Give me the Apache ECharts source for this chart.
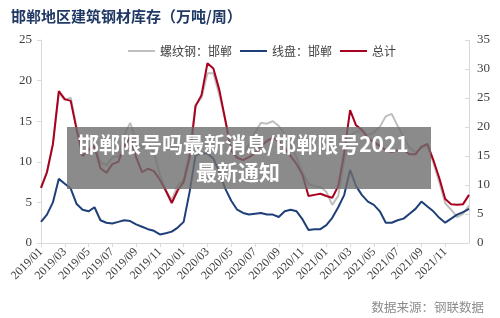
<!DOCTYPE html>
<html><head><meta charset="utf-8">
<script src="https://cdn.jsdelivr.net/npm/echarts@6/dist/echarts.min.js"></script>
<style>html,body{margin:0;padding:0;background:#fff}#c{width:500px;height:318px}</style>
</head><body><div id="c"></div>
<script>
const titleText = '邯郸地区建筑钢材库存（万吨/周）';
const sourceText = '数据来源：钢联数据';
const overlayLine1 = '邯郸限号吗最新消息/邯郸限号2021';
const overlayLine2 = '最新通知';
const seriesNames = ['螺纹钢：邯郸', '线盘：邯郸', '总计'];

const dates = [
'2019/01/01','2019/01/16','2019/02/01','2019/02/16','2019/03/01','2019/03/16','2019/04/01','2019/04/16',
'2019/05/01','2019/05/16','2019/06/01','2019/06/16','2019/07/01','2019/07/16','2019/08/01','2019/08/16',
'2019/09/01','2019/09/16','2019/10/01','2019/10/16','2019/11/01','2019/11/16','2019/12/01','2019/12/16',
'2020/01/01','2020/01/16','2020/02/01','2020/02/16','2020/03/01','2020/03/16','2020/04/01','2020/04/16',
'2020/05/01','2020/05/16','2020/06/01','2020/06/16','2020/07/01','2020/07/16','2020/08/01','2020/08/16',
'2020/09/01','2020/09/16','2020/10/01','2020/10/16','2020/11/01','2020/11/16','2020/12/01','2020/12/16',
'2021/01/01','2021/01/16','2021/02/01','2021/02/16','2021/03/01','2021/03/16','2021/04/01','2021/04/16',
'2021/05/01','2021/05/16','2021/06/01','2021/06/16','2021/07/01','2021/07/16','2021/08/01','2021/08/16',
'2021/09/01','2021/09/16','2021/10/01','2021/10/16','2021/11/01','2021/11/16','2021/12/01','2021/12/16',
'2022/01/01'];

// 螺纹钢：邯郸 (left axis)
const rebar = [6.8,8.7,12.2,18.5,17.6,17.9,14.2,10.8,11.7,12.3,9.9,9.6,10.5,10.7,13.3,14.8,
12.7,11.7,12.1,11.2,8.4,6.5,5.3,7.1,7.8,11.5,17.0,17.9,20.9,20.9,18.2,15.2,
11.7,11.1,11.2,12.1,13.6,14.8,14.7,15.0,14.4,13.4,12.1,10.5,8.7,7.3,7.0,6.9,
6.3,4.7,5.8,10.2,13.3,13.7,13.8,13.3,13.6,14.3,15.6,15.9,14.4,13.1,11.7,11.2,
11.7,12.0,9.9,7.5,4.9,4.1,3.2,3.6,4.6];

// 线盘：邯郸 (left axis)
const wire = [2.6,3.5,5.0,7.9,7.3,6.7,4.8,4.1,3.9,4.4,2.8,2.5,2.4,2.6,2.8,2.7,
2.3,2.0,1.7,1.5,1.05,1.2,1.4,1.9,2.6,6.3,10.8,11.1,11.0,10.4,8.7,6.7,
5.2,4.1,3.7,3.5,3.6,3.7,3.5,3.5,3.2,3.9,4.1,3.9,2.9,1.6,1.7,1.7,
2.2,3.1,4.4,5.9,9.0,7.0,5.9,5.1,4.7,3.9,2.5,2.5,2.8,3.0,3.6,4.2,
5.1,4.5,3.9,3.1,2.5,3.0,3.5,3.8,4.2];

// 总计 (right axis)
const total = [9.5,12.2,17.0,26.2,24.8,24.5,19.5,15.0,16.0,16.7,12.9,12.1,13.6,14.0,16.7,18.3,
14.8,12.2,12.8,12.4,10.9,9.0,6.9,9.1,10.5,14.7,23.6,25.5,31.0,30.1,26.4,21.2,
15.9,14.7,14.3,14.8,15.5,16.7,17.6,18.1,17.6,16.4,15.0,13.6,11.7,8.1,8.3,8.5,
8.1,7.8,9.8,15.5,22.9,20.3,19.5,18.1,17.4,16.7,16.0,15.7,16.0,16.0,15.3,15.3,
16.6,17.1,14.3,11.2,7.6,6.7,6.6,6.7,8.3];

const leftAxis = {min: 0, max: 25, interval: 5};
const rightAxis = {min: 0, max: 35, interval: 5};

const chart = echarts.init(document.getElementById('c'), null, {renderer: 'canvas'});
const serif = '"Liberation Serif", "Times New Roman", serif';
const cjk = '"Noto Sans CJK SC", sans-serif';
const axisGray = '#d9d9d9';
const labelColor = '#404040';
const tickFn = function (idx) { return idx % 4 === 0 && idx < dates.length - 1; };

chart.setOption({
  animation: false,
  backgroundColor: '#fff',
  title: {
    text: titleText, left: 6, top: 4,
    textStyle: {fontSize: 15, fontWeight: 'bold', color: '#203864', fontFamily: cjk}
  },
  legend: {
    left: 123, top: 40, icon: 'rect', itemWidth: 27, itemHeight: 2, itemGap: 8,
    data: seriesNames,
    textStyle: {fontSize: 12, color: labelColor, fontFamily: cjk}
  },
  grid: {left: 41, right: 31, top: 40, bottom: 75},
  xAxis: {
    type: 'category', boundaryGap: false, data: dates,
    axisLine: {lineStyle: {color: axisGray}},
    axisTick: {interval: tickFn, length: 4, lineStyle: {color: axisGray}},
    axisLabel: {
      interval: tickFn, rotate: 45, margin: 7, fontSize: 12, color: labelColor, fontFamily: serif,
      formatter: function (v) { return v.slice(0, 7); }
    },
    splitLine: {show: false}
  },
  yAxis: [
    {type: 'value', min: leftAxis.min, max: leftAxis.max, interval: leftAxis.interval,
     axisLine: {show: true, lineStyle: {color: axisGray}},
     axisTick: {show: true, length: 4, lineStyle: {color: axisGray}},
     axisLabel: {fontSize: 13, color: labelColor, fontFamily: serif, margin: 9},
     splitLine: {show: false}},
    {type: 'value', min: rightAxis.min, max: rightAxis.max, interval: rightAxis.interval,
     position: 'right',
     axisLine: {show: true, lineStyle: {color: axisGray}},
     axisTick: {show: true, inside: true, length: 4, lineStyle: {color: axisGray}},
     axisLabel: {fontSize: 13, color: labelColor, fontFamily: serif, margin: 8},
     splitLine: {show: false}}
  ],
  series: [
    {name: seriesNames[0], type: 'line', yAxisIndex: 0, data: rebar, symbol: 'none',
     itemStyle: {color: '#bfbfbf'}, lineStyle: {color: '#bfbfbf', width: 2}},
    {name: seriesNames[1], type: 'line', yAxisIndex: 0, data: wire, symbol: 'none',
     itemStyle: {color: '#1f3f78'}, lineStyle: {color: '#1f3f78', width: 2}},
    {name: seriesNames[2], type: 'line', yAxisIndex: 1, data: total, symbol: 'none',
     itemStyle: {color: '#a8001e'}, lineStyle: {color: '#a8001e', width: 2}}
  ],
  graphic: [
    {type: 'text', right: 16, top: 301,
     style: {text: sourceText, fill: '#8c8c8c', fontSize: 12.5, fontFamily: cjk}},
    {type: 'rect', z: 100, shape: {x: 67, y: 127, width: 364, height: 62},
     style: {fill: 'rgba(110,110,110,0.8)'}},
    {type: 'text', z: 101, x: 78, y: 144,
     style: {text: overlayLine1, fill: '#fff', fontSize: 21, fontWeight: 'bold', fontFamily: cjk, verticalAlign: 'middle'}},
    {type: 'text', z: 101, x: 238, y: 172,
     style: {text: overlayLine2, fill: '#fff', fontSize: 21, fontWeight: 'bold', fontFamily: cjk, align: 'center', verticalAlign: 'middle'}}
  ]
});
</script>
</body></html>
